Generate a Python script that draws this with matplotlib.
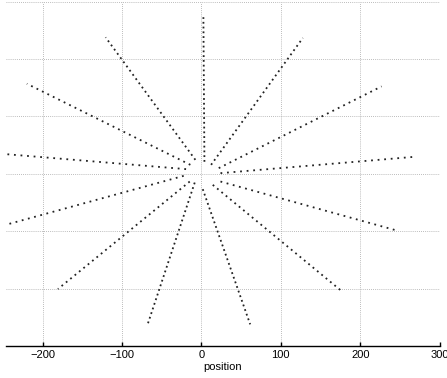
import numpy as np
import matplotlib
matplotlib.use("Agg")
import matplotlib.pyplot as plt

# ray end points (x = position, y in arbitrary units)
x_start = [3.8, 12.2, 21.8, 24.0, 24.0, 14.3, 1.7, -8.4, -14.7, -22.3, -19.3, -13.9, -7.6]
y_start = [21.0, 15.7, 9.9, 1.2, -13.4, -19.2, -26.7, -15.2, -13.4, -3.5, 8.2, 15.7, 24.4]
x_end = [2.5, 127.7, 226.8, 268.4, 247.9, 178.0, 61.4, -68.4, -180.6, -252.0, -252.0, -219.7, -120.6]
y_end = [273.0, 236.8, 152.4, 29.7, -99.5, -206.0, -262.3, -265.3, -200.7, -91.0, 35.0, 157.0, 237.9]

xticks = [-200, -100, 0, 100, 200, 300]
yticks = [-200, -100, 0, 100, 200, 300]

dpi = 100
fig = plt.figure(figsize=(4.47, 3.78), dpi=dpi)
ax = fig.add_axes([0.0134, 0.0847, 0.9703, 0.9108])
ax.set_xlim(-246, 300)
ax.set_ylim(-300, 300)

step = 8.3  # dot spacing in data units
lw = 1.3
for xs, ys, xe, ye in zip(x_start, y_start, x_end, y_end):
    p0 = ax.transData.transform((xs, ys))
    p1 = ax.transData.transform((xe, ye))
    len_px = np.hypot(*(p1 - p0))
    len_data = np.hypot(xe - xs, ye - ys)
    gap_pt = step * len_px / len_data * 72.0 / dpi
    ax.plot([xs, xe], [ys, ye], color='#222222', lw=lw,
            linestyle=(0, (1, gap_pt / lw - 1)))

ax.set_xticks(xticks)
ax.set_yticks(yticks)
ax.grid(True, color='0.65', linestyle=(0, (1, 1.5)), linewidth=0.6)
ax.tick_params(axis='x', direction='in', length=3, width=1, labelsize=8, pad=3)
ax.tick_params(axis='y', length=0, labelleft=False)
for s in ['left', 'right', 'top']:
    ax.spines[s].set_visible(False)
ax.spines['bottom'].set_linewidth(1.0)
for lab in ax.get_xticklabels():
    lab.set_fontfamily('Liberation Sans')
ax.set_xlabel('position', fontsize=8, family='Liberation Sans', labelpad=1)

fig.savefig('out.png', dpi=dpi)
